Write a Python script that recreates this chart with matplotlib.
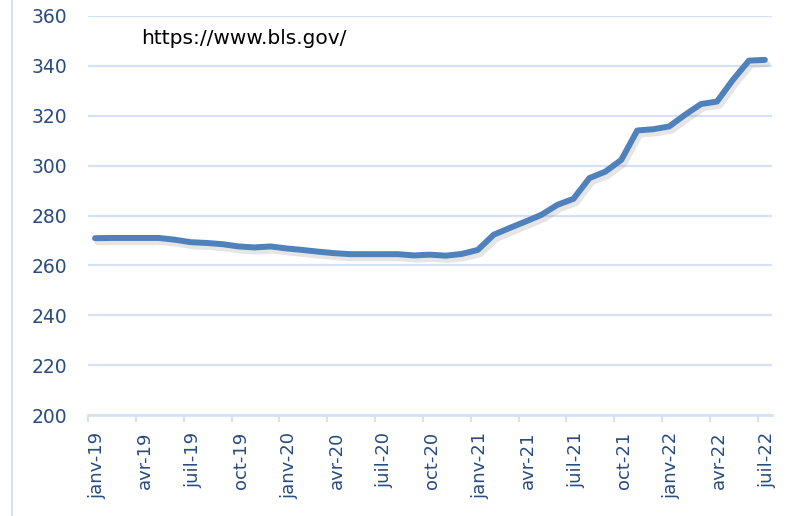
import matplotlib
matplotlib.use("Agg")
import matplotlib.pyplot as plt
import matplotlib.patheffects as pe
from matplotlib.lines import Line2D

plt.rcParams['font.family'] = ['DejaVu Sans']

# Monthly values, janv-19 .. juil-22
values = [270.9, 271.0, 271.0, 271.0, 271.0, 270.3, 269.3, 269.0, 268.5, 267.6,
          267.2, 267.6, 266.8, 266.2, 265.5, 264.9, 264.5, 264.5, 264.5, 264.5,
          264.0, 264.3, 263.9, 264.6, 266.2, 272.3, 275.0, 277.6, 280.3, 284.3,
          286.7, 295.0, 297.6, 302.3, 314.1, 314.6, 315.7, 320.4, 324.7, 325.7,
          334.4, 342.1, 342.4]
tick_labels = ["janv-19", "avr-19", "juil-19", "oct-19", "janv-20", "avr-20",
               "juil-20", "oct-20", "janv-21", "avr-21", "juil-21", "oct-21",
               "janv-22", "avr-22", "juil-22"]
y_ticks = [200, 220, 240, 260, 280, 300, 320, 340, 360]
source_text = "https://www.bls.gov/"

line_color = "#4F81BD"
grid_color = "#D6E2F4"
label_color = "#284B80"

fig = plt.figure(figsize=(8.0, 5.16), dpi=100)
ax = fig.add_axes([0.110, 0.1957, 0.8546, 0.7733])

x = list(range(len(values)))
ax.plot(x, values, color=line_color, lw=4.3, solid_capstyle='round', solid_joinstyle='round',
        path_effects=[pe.SimpleLineShadow(offset=(2, -3), shadow_color='#8a8a8a', alpha=0.22),
                      pe.Normal()], zorder=3)

ax.set_xlim(-0.44, 42.43)
ax.set_ylim(200, 360)
ax.set_yticks(y_ticks)
ax.set_yticklabels([str(v) for v in y_ticks])
ax.grid(axis='y', color=grid_color, lw=1.6, zorder=0)
ax.set_axisbelow(True)

# tick marks (between months) and labels (on months)
major_pos = [3 * j - 0.44 for j in range(len(tick_labels))]
ax.set_xticks(major_pos)
ax.set_xticklabels([""] * len(major_pos))
ax.set_xticks([3 * j + 0.15 for j in range(len(tick_labels))], minor=True)
ax.set_xticklabels(tick_labels, minor=True, rotation=90)
ax.tick_params(axis='x', which='major', length=5, width=1.5, color=grid_color, direction='out')
ax.tick_params(axis='x', which='minor', length=0, pad=12, labelsize=13, labelcolor=label_color)
ax.tick_params(axis='y', length=0, pad=15, labelsize=13.5, labelcolor=label_color)

for s in ['top', 'right', 'left']:
    ax.spines[s].set_visible(False)
ax.spines['bottom'].set_color(grid_color)
ax.spines['bottom'].set_linewidth(2)

ax.text(0.078, 0.943, source_text, transform=ax.transAxes, fontsize=14.5,
        color='black', va='center', ha='left')

fig.add_artist(Line2D([12 / 800, 12 / 800], [0, 1], transform=fig.transFigure,
                      color=grid_color, lw=1.5))

fig.savefig("out.png", dpi=100)
